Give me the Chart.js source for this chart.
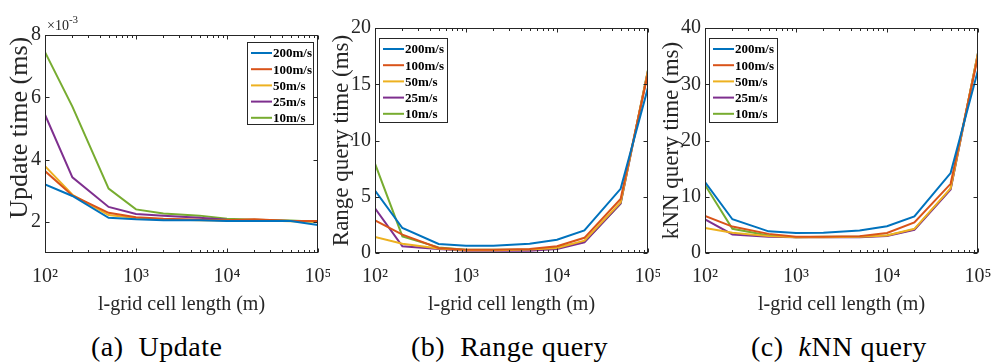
<!DOCTYPE html>
<html>
<head>
    <meta charset="utf-8">
    <title>l-grid cell length</title>
    <script src="https://cdn.jsdelivr.net/npm/chart.js@4.4.0/dist/chart.umd.min.js"></script>
    <style>
        body {
            margin: 0;
            background: #fff;
            width: 993px;
            height: 362px;
            position: relative;
            overflow: hidden;
        }
        .panel {
            position: absolute;
            top: 0;
        }
        .caption {
            position: absolute;
            top: 331px;
            line-height: 32px;
            font-family: "Liberation Serif", serif;
            font-size: 28px;
            letter-spacing: 0.5px;
            color: #000;
            white-space: pre;
        }
    </style>
</head>
<body>
    <div class="panel" style="left:0px"><canvas id="c1" width="330" height="320"></canvas></div>
    <div class="panel" style="left:330px"><canvas id="c2" width="330" height="320"></canvas></div>
    <div class="panel" style="left:660px"><canvas id="c3" width="333" height="320"></canvas></div>
    <div class="caption" style="left:91px">(a)  Update</div>
    <div class="caption" style="left:411px">(b)  Range query</div>
    <div class="caption" style="left:751px">(c)  <i>k</i>NN query</div>

    <script>
        // x values: l-grid cell length (m)
        const cellLengths = [100, 200, 500, 1000, 2000, 5000, 10000, 20000, 50000, 100000];
        const speeds = ['200m/s', '100m/s', '50m/s', '25m/s', '10m/s'];
        const speedColors = ['#0072BD', '#D95319', '#EDB120', '#7E2F8E', '#77AC30'];

        // (a) update time in ms, one row per speed
        const updateTime = [
            [3.20e-3, 2.83e-3, 2.13e-3, 2.08e-3, 2.05e-3, 2.05e-3, 2.03e-3, 2.03e-3, 2.03e-3, 1.90e-3],
            [3.63e-3, 2.85e-3, 2.29e-3, 2.15e-3, 2.10e-3, 2.07e-3, 2.05e-3, 2.08e-3, 2.03e-3, 2.03e-3],
            [3.79e-3, 2.87e-3, 2.22e-3, 2.12e-3, 2.08e-3, 2.05e-3, 2.04e-3, 2.05e-3, 2.02e-3, 2.00e-3],
            [5.44e-3, 3.43e-3, 2.48e-3, 2.25e-3, 2.20e-3, 2.13e-3, 2.07e-3, 2.05e-3, 2.03e-3, 2.03e-3],
            [7.45e-3, 5.70e-3, 3.07e-3, 2.40e-3, 2.27e-3, 2.20e-3, 2.10e-3, 2.07e-3, 2.04e-3, 2.00e-3]
        ];

        // (b) range query time in ms
        const rangeTime = [
            [5.54, 2.22, 0.80, 0.65, 0.65, 0.83, 1.18, 2.00, 5.70, 14.7],
            [2.90, 1.63, 0.45, 0.30, 0.30, 0.35, 0.60, 1.35, 4.80, 16.0],
            [1.42, 0.83, 0.40, 0.25, 0.25, 0.30, 0.45, 1.10, 4.50, 16.2],
            [3.97, 0.60, 0.35, 0.20, 0.20, 0.20, 0.35, 0.95, 4.40, 16.2],
            [7.94, 1.48, 0.50, 0.30, 0.30, 0.30, 0.50, 1.00, 4.40, 16.3]
        ];

        // (c) kNN query time in ms
        const knnTime = [
            [12.6, 6.0, 3.85, 3.55, 3.6, 4.0, 4.75, 6.5, 14.2, 32.5],
            [6.6, 4.7, 3.4, 2.9, 2.9, 3.0, 3.55, 5.45, 12.3, 35.0],
            [4.45, 3.6, 3.0, 2.8, 2.8, 2.9, 3.1, 4.3, 11.5, 35.5],
            [6.0, 3.3, 2.9, 2.8, 2.8, 2.8, 3.0, 4.1, 11.3, 35.5],
            [12.1, 4.3, 3.1, 2.8, 2.9, 2.9, 3.1, 4.2, 11.4, 35.6]
        ];

        const xMajorTicks = [100, 1000, 10000, 100000];
        const xTickLabels = ['10\u00B2', '10\u00B3', '10\u2074', '10\u2075'];
        const updateTicks = [2e-3, 4e-3, 6e-3, 8e-3];
        const rangeTicks = [0, 5, 10, 15, 20];
        const knnTicks = [0, 10, 20, 30, 40];

        const axisColor = '#262626';
        const serif = '"Liberation Serif", "Times New Roman", serif';

        // box, inward ticks (both sides) and log minor ticks, like MATLAB axes
        const framePlugin = {
            id: 'frame',
            afterDatasetsDraw(chart) {
                const { ctx, chartArea: a, scales: { x, y } } = chart;
                const L = Math.round(a.left) + 0.5, R = Math.round(a.right) - 0.5;
                const T = Math.round(a.top) + 0.5, B = Math.round(a.bottom) - 0.5;
                ctx.save();
                ctx.strokeStyle = axisColor;
                ctx.lineWidth = 1;
                ctx.beginPath();
                xMajorTicks.forEach(v => {
                    const px = Math.round(x.getPixelForValue(v)) + 0.5;
                    ctx.moveTo(px, B); ctx.lineTo(px, B - 4);
                    ctx.moveTo(px, T); ctx.lineTo(px, T + 4);
                });
                for (let d = 100; d < 100000; d *= 10) {
                    for (let m = 2; m <= 9; m++) {
                        const px = Math.round(x.getPixelForValue(d * m)) + 0.5;
                        ctx.moveTo(px, B); ctx.lineTo(px, B - 2.5);
                        ctx.moveTo(px, T); ctx.lineTo(px, T + 2.5);
                    }
                }
                y.ticks.forEach(t => {
                    const py = Math.round(y.getPixelForValue(t.value)) + 0.5;
                    ctx.moveTo(L, py); ctx.lineTo(L + 4, py);
                    ctx.moveTo(R, py); ctx.lineTo(R - 4, py);
                });
                ctx.stroke();
                ctx.strokeRect(L, T, R - L, B - T);
                ctx.restore();
            }
        };

        // boxed legend inside the axes
        const boxLegendPlugin = {
            id: 'boxLegend',
            afterDraw(chart, args, opts) {
                const { ctx, chartArea: a } = chart;
                const left = opts.fromRight ? a.right - opts.offsetX - opts.width : a.left + opts.offsetX;
                const top = a.top + opts.offsetY;
                ctx.save();
                ctx.fillStyle = '#fff';
                ctx.fillRect(left, top, opts.width, opts.height);
                ctx.strokeStyle = axisColor;
                ctx.lineWidth = 1;
                ctx.strokeRect(Math.round(left) + 0.5, Math.round(top) + 0.5, opts.width, opts.height);
                ctx.font = 'bold 13px ' + serif;
                ctx.textBaseline = 'middle';
                ctx.textAlign = 'left';
                chart.data.datasets.forEach((ds, i) => {
                    const ry = top + 11 + i * 16.2;
                    ctx.strokeStyle = ds.borderColor;
                    ctx.lineWidth = 2;
                    ctx.beginPath();
                    ctx.moveTo(left + 4, ry);
                    ctx.lineTo(left + 25, ry);
                    ctx.stroke();
                    ctx.fillStyle = '#000';
                    ctx.fillText(ds.label, left + 26, ry + 1);
                });
                ctx.restore();
            }
        };

        // x10^-3 exponent label above the first axes
        const exponentPlugin = {
            id: 'exponent',
            afterDraw(chart, args, opts) {
                if (!opts.show) return;
                const { ctx, chartArea: a } = chart;
                ctx.save();
                ctx.fillStyle = axisColor;
                ctx.textBaseline = 'alphabetic';
                ctx.font = '14px ' + serif;
                ctx.fillText('\u00D710', a.left + 2, a.top - 5);
                const w = ctx.measureText('\u00D710').width;
                ctx.font = '11px ' + serif;
                ctx.fillText('-3', a.left + 2 + w, a.top - 12);
                ctx.restore();
            }
        };

        function makePanel(id, series, yMin, yMax, yTicks, yLabel, yFormat, opts) {
            const datasets = speeds.map((name, i) => ({
                label: name,
                data: cellLengths.map((c, j) => ({ x: c, y: series[i][j] })),
                borderColor: speedColors[i],
                backgroundColor: speedColors[i],
                borderWidth: 2,
                pointRadius: 0,
                tension: 0,
                fill: false
            }));
            return new Chart(document.getElementById(id), {
                type: 'line',
                data: { datasets },
                options: {
                    responsive: false,
                    animation: false,
                    events: [],
                    layout: { padding: { left: 0, right: opts.padRight, top: opts.padTop, bottom: 0 } },
                    plugins: {
                        legend: { display: false },
                        tooltip: { enabled: false },
                        boxLegend: opts.legend,
                        exponent: { show: !!opts.exponent }
                    },
                    scales: {
                        x: {
                            type: 'logarithmic',
                            min: 100,
                            max: 100000,
                            afterBuildTicks: s => { s.ticks = xMajorTicks.map(v => ({ value: v })); },
                            afterFit: s => { s.height = 67; s.paddingLeft = 0; s.paddingRight = 0; },
                            grid: { display: false, drawTicks: false },
                            border: { display: false },
                            ticks: {
                                autoSkip: false,
                                maxRotation: 0,
                                padding: 12,
                                color: axisColor,
                                font: { family: serif, size: 20 },
                                callback: v => xTickLabels[xMajorTicks.indexOf(v)]
                            },
                            title: {
                                display: true,
                                text: 'l-grid cell length (m)',
                                color: axisColor,
                                font: { family: serif, size: 20 },
                                padding: { top: 0, bottom: 3 }
                            }
                        },
                        y: {
                            min: yMin,
                            max: yMax,
                            afterBuildTicks: s => { s.ticks = yTicks.map(v => ({ value: v })); },
                            afterFit: s => { s.width = 45; s.paddingTop = 0; s.paddingBottom = 0; },
                            grid: { display: false, drawTicks: false },
                            border: { display: false },
                            ticks: {
                                padding: 4,
                                color: axisColor,
                                font: { family: serif, size: 20 },
                                callback: yFormat
                            },
                            title: {
                                display: true,
                                text: yLabel,
                                color: axisColor,
                                font: { family: serif, size: opts.titleSize },
                                padding: { top: opts.titlePad, bottom: 0 }
                            }
                        }
                    }
                },
                plugins: [framePlugin, boxLegendPlugin, exponentPlugin]
            });
        }

        // leading spaces lift the rotated label, as in the original panel (a)
        makePanel('c1', updateTime, 1e-3, 8e-3, updateTicks, '\u2002\u2002\u00A0Update time (ms)',
            v => String(Math.round(v * 1000)),
            { padRight: 12, padTop: 35, titlePad: 5, titleSize: 26, exponent: true,
              legend: { fromRight: true, offsetX: 5, offsetY: 7, width: 66, height: 82 } });

        makePanel('c2', rangeTime, 0, 20, rangeTicks, 'Range query time (ms)',
            v => String(v),
            { padRight: 12, padTop: 28, titlePad: -2, titleSize: 23,
              legend: { fromRight: false, offsetX: 4, offsetY: 10, width: 68, height: 84 } });

        makePanel('c3', knnTime, 0, 40, knnTicks, 'kNN query time (ms)',
            v => String(v),
            { padRight: 15, padTop: 28, titlePad: -2, titleSize: 23,
              legend: { fromRight: false, offsetX: 4, offsetY: 10, width: 68, height: 84 } });
    </script>
</body>
</html>
